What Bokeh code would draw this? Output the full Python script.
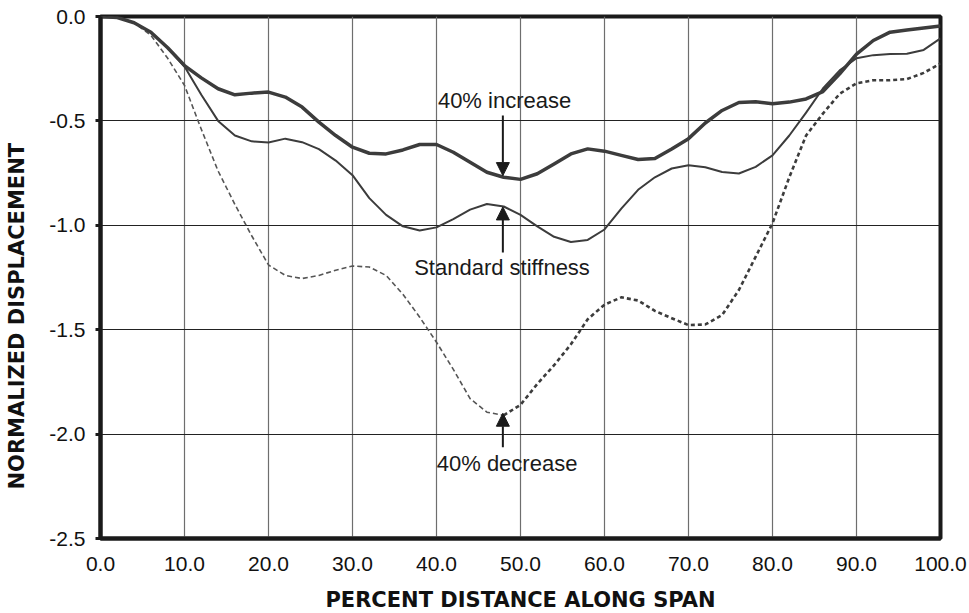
from bokeh.plotting import figure
from bokeh.models import (FixedTicker, PrintfTickFormatter, Label, Arrow, NormalHead, Range1d, Title)
from bokeh.embed import file_html
from bokeh.resources import INLINE

# ---- data ----
span_pct = [0, 2, 4, 6, 8, 10, 12, 14, 16, 18, 20, 22, 24, 26, 28, 30, 32, 34, 36, 38, 40,
            42, 44, 46, 48, 50, 52, 54, 56, 58, 60, 62, 64, 66, 68, 70, 72, 74, 76, 78, 80,
            82, 84, 86, 88, 90, 92, 94, 96, 98, 100]

increase_40 = [0.0, -0.005, -0.03, -0.075, -0.15, -0.235, -0.294, -0.346, -0.375, -0.367, -0.362,
               -0.386, -0.434, -0.506, -0.57, -0.626, -0.655, -0.658, -0.639, -0.613, -0.613,
               -0.65, -0.698, -0.746, -0.77, -0.78, -0.753, -0.706, -0.658, -0.634, -0.645,
               -0.665, -0.685, -0.68, -0.635, -0.585, -0.51, -0.45, -0.412, -0.408, -0.418,
               -0.41, -0.395, -0.36, -0.275, -0.18, -0.115, -0.075, -0.065, -0.055, -0.045]

standard = [0.0, -0.005, -0.03, -0.075, -0.15, -0.24, -0.375, -0.50, -0.57, -0.598, -0.603,
            -0.585, -0.602, -0.635, -0.69, -0.76, -0.87, -0.95, -1.005, -1.025, -1.01,
            -0.97, -0.925, -0.898, -0.91, -0.95, -1.005, -1.055, -1.08, -1.07, -1.02,
            -0.92, -0.83, -0.77, -0.728, -0.712, -0.722, -0.745, -0.752, -0.72, -0.665,
            -0.57, -0.46, -0.345, -0.258, -0.2, -0.185, -0.18, -0.178, -0.16, -0.105]

decrease_40 = [0.0, -0.005, -0.03, -0.09, -0.2, -0.33, -0.54, -0.74, -0.9, -1.05, -1.19,
               -1.24, -1.255, -1.24, -1.215, -1.195, -1.2, -1.24, -1.33, -1.44, -1.56,
               -1.69, -1.83, -1.895, -1.91, -1.86, -1.76, -1.67, -1.57, -1.45, -1.38,
               -1.345, -1.36, -1.41, -1.445, -1.478, -1.475, -1.43, -1.31, -1.15, -0.99,
               -0.77, -0.57, -0.465, -0.37, -0.32, -0.305, -0.305, -0.30, -0.27, -0.225]

x_ticks = [0, 10, 20, 30, 40, 50, 60, 70, 80, 90, 100]
y_ticks = [0.0, -0.5, -1.0, -1.5, -2.0, -2.5]

annotations = [
    # text, text_x, text_y, arrow_x, arrow_start_y, arrow_end_y
    ("40% increase", 48.1, -0.403, 47.9, -0.474, -0.762),
    ("Standard stiffness", 47.8, -1.200, 47.9, -1.130, -0.912),
    ("40% decrease", 48.4, -2.143, 47.9, -2.063, -1.900),
]

x_title = "PERCENT DISTANCE ALONG SPAN"
y_title = "NORMALIZED DISPLACEMENT"

# ---- figure ----
p = figure(width=969, height=613, output_backend="svg", toolbar_location=None,
           x_range=Range1d(0, 100), y_range=Range1d(-2.5, 0.0))
p.min_border_left = 100
p.min_border_right = 29
p.min_border_top = 16
p.min_border_bottom = 75
p.background_fill_color = "white"
p.border_fill_color = "white"
p.outline_line_color = "#1a1a1a"
p.outline_line_width = 4

tick_font = "Liberation Sans"

p.xaxis.ticker = FixedTicker(ticks=x_ticks)
p.xaxis.formatter = PrintfTickFormatter(format="%.1f")
p.xaxis.major_tick_out = 0
p.xaxis.major_tick_in = 0
p.xaxis.minor_tick_out = 0
p.xaxis.minor_tick_in = 0
p.xaxis.axis_line_color = "#1a1a1a"
p.xaxis.axis_line_width = 4
p.xaxis.major_label_standoff = 18
p.xaxis.major_label_text_font = tick_font
p.xaxis.major_label_text_font_size = "21px"
p.xaxis.major_label_text_color = "#111111"
# blank spacer label to push the title outward
p.xaxis.axis_label = " "
p.xaxis.axis_label_text_font_size = "6px"
p.xaxis.axis_label_standoff = 2

p.yaxis.ticker = FixedTicker(ticks=y_ticks)
p.yaxis.formatter = PrintfTickFormatter(format="%.1f")
p.yaxis.major_tick_out = 5
p.yaxis.major_tick_in = 0
p.yaxis.major_tick_line_width = 3
p.yaxis.major_tick_line_color = "#1a1a1a"
p.yaxis.minor_tick_out = 0
p.yaxis.minor_tick_in = 0
p.yaxis.axis_line_color = "#1a1a1a"
p.yaxis.axis_line_width = 4
p.yaxis.major_label_standoff = 10
p.yaxis.major_label_text_font = tick_font
p.yaxis.major_label_text_font_size = "21px"
p.yaxis.major_label_text_color = "#111111"
p.yaxis.axis_label = " "
p.yaxis.axis_label_text_font_size = "10px"
p.yaxis.axis_label_standoff = 2

p.xgrid.ticker = FixedTicker(ticks=x_ticks[1:-1])
p.ygrid.ticker = FixedTicker(ticks=y_ticks[1:-1])
p.xgrid.grid_line_color = "#6e6e6e"
p.xgrid.grid_line_width = 1.2
p.ygrid.grid_line_color = "#222222"
p.ygrid.grid_line_width = 1.2

# ---- curves ----
split = span_pct.index(48)
p.line(span_pct[:split + 1], decrease_40[:split + 1], line_color="#555555", line_width=1.6,
       line_dash="5 3", line_join="round")
p.line(span_pct[split:], decrease_40[split:], line_color="#3c3c3c", line_width=2.6,
       line_dash="4 3", line_join="round")
p.line(span_pct, standard, line_color="#3c3c3c", line_width=2, line_join="round")
p.line(span_pct, increase_40, line_color="#3c3c3c", line_width=3.5, line_join="round")

# ---- annotations ----
for text, tx, ty, ax, ay0, ay1 in annotations:
    p.add_layout(Arrow(x_start=ax, y_start=ay0, x_end=ax, y_end=ay1,
                       line_color="#1a1a1a", line_width=2,
                       end=NormalHead(size=13, fill_color="#1a1a1a", line_color="#1a1a1a")))
    p.add_layout(Label(x=tx, y=ty, text=text, text_align="center", text_baseline="middle",
                       text_font=tick_font, text_font_size="22px", text_color="#1a1a1a"))

# ---- axis titles ----
p.add_layout(Title(text=x_title, align="center", text_font="DejaVu Sans",
                   text_font_style="bold", text_font_size="21px", text_color="#111111",
                   standoff=2), "below")
p.add_layout(Title(text=y_title, align="left", offset=49, text_font="DejaVu Sans",
                   text_font_style="bold", text_font_size="21px", text_color="#111111",
                   standoff=4), "left")

open("out.html", "w").write(file_html(p, INLINE))
